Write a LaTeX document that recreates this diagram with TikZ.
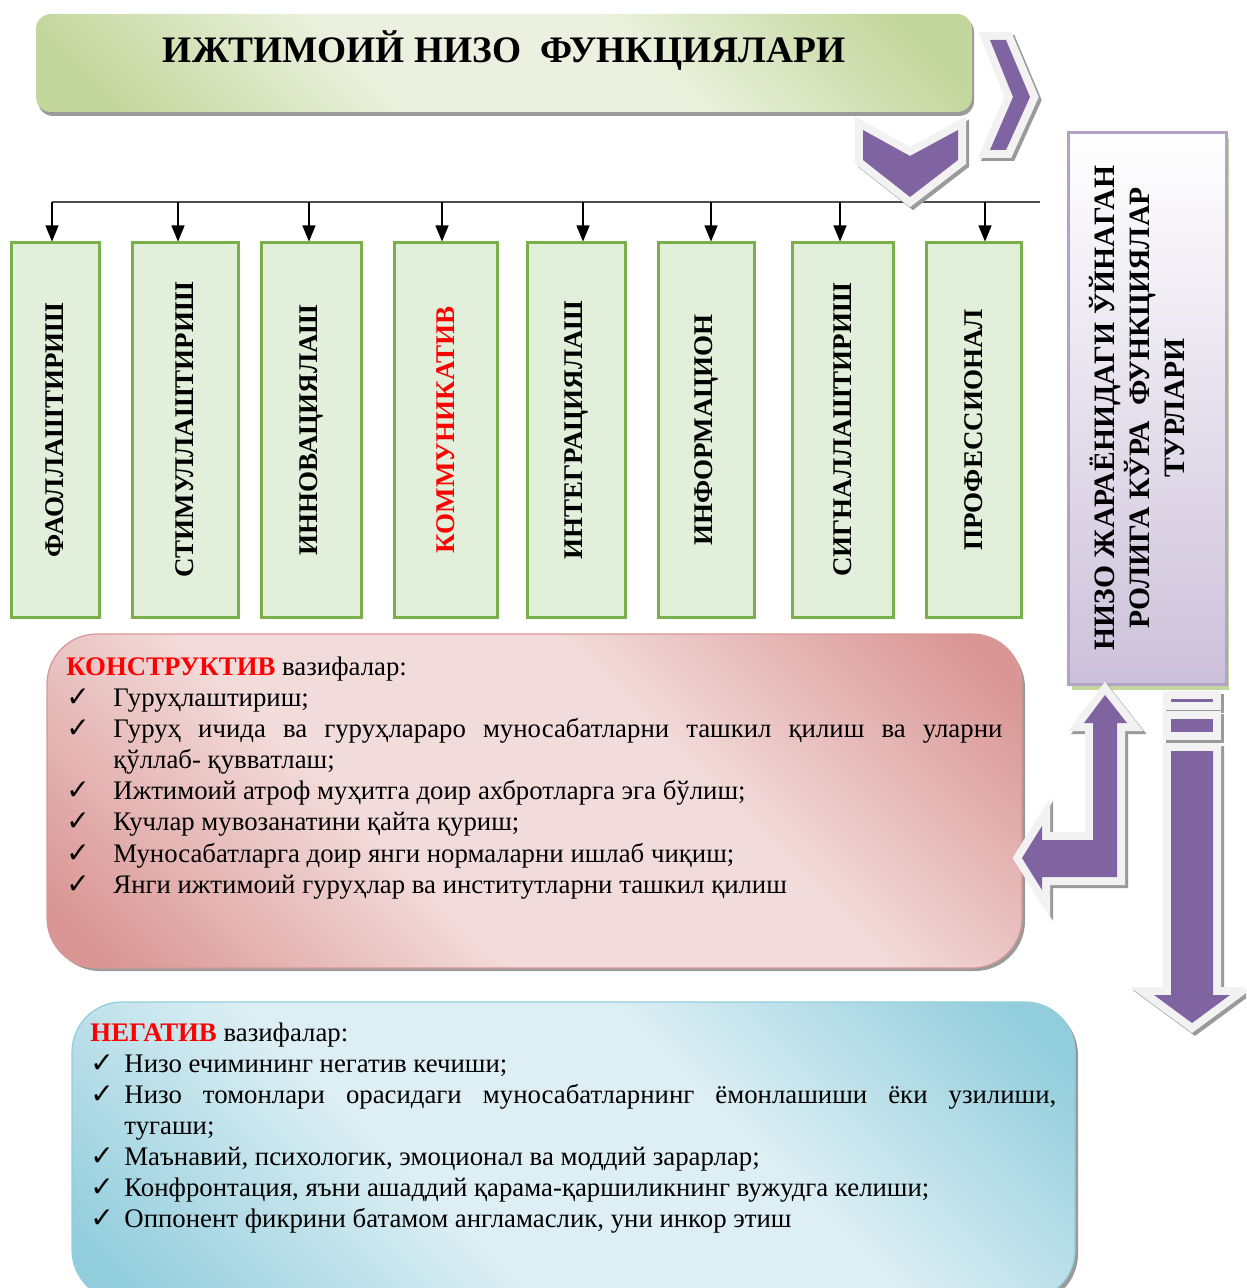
\documentclass[tikz,border=0pt]{standalone}
\usepackage{fontspec}
\setmainfont{Liberation Serif}
\newfontfamily\chkfont{DejaVu Sans}
\usepackage{graphicx}
\usetikzlibrary{arrows.meta}
\definecolor{apurple}{HTML}{8064A2}
\definecolor{agray}{HTML}{F2F2F2}
\definecolor{shgray}{HTML}{9A9A9A}
\definecolor{gborder}{HTML}{7AAF4C}
\definecolor{gfill}{HTML}{E2EFDA}
\definecolor{pborder}{HTML}{B3A2C7}
\definecolor{pdark}{HTML}{CCC1DA}
\definecolor{pshadow}{HTML}{C3D69B}
\definecolor{rdark}{HTML}{D99694}
\definecolor{rlight}{HTML}{F2DCDB}
\definecolor{bdark}{HTML}{92CDDC}
\definecolor{blight}{HTML}{DDEFF4}
\definecolor{tdark}{HTML}{C3D69B}
\definecolor{tlight}{HTML}{EBF1DE}
\pgfdeclarehorizontalshading{rshade}{100bp}{color(0bp)=(rdark); color(18bp)=(rdark); color(40bp)=(rlight); color(60bp)=(rlight); color(82bp)=(rdark); color(100bp)=(rdark)}
\pgfdeclarehorizontalshading{bshade}{100bp}{color(0bp)=(bdark); color(18bp)=(bdark); color(40bp)=(blight); color(60bp)=(blight); color(82bp)=(bdark); color(100bp)=(bdark)}
\pgfdeclarehorizontalshading{tshade}{100bp}{color(0bp)=(tdark); color(20bp)=(tdark); color(40bp)=(tlight); color(60bp)=(tlight); color(80bp)=(tdark); color(100bp)=(tdark)}
\newcommand{\ck}{{\chkfont\fontsize{14}{14}\selectfont ✓}}
\newcommand{\ritm}[1]{\par\hangindent=23.5pt\hangafter=1\noindent\makebox[23.5pt][l]{\ck}#1}
\newcommand{\bitm}[1]{\par\hangindent=17pt\hangafter=1\noindent\makebox[17pt][l]{\ck}#1}
\newcommand{\fancyshape}[1]{%
  \path[draw=shgray,fill=shgray,line width=8pt,line join=miter,shift={(3,3)}] #1;
  \path[draw=agray,fill=agray,line width=8pt,line join=miter] #1;
  \fill[apurple] #1;}
\begin{document}
\begin{tikzpicture}[x=0.5pt,y=-0.5pt,
  gbox/.style={draw=gborder,fill=gfill,line width=1.5pt,inner sep=0pt,minimum height=187pt,
     font=\fontsize{13.5}{16}\selectfont\bfseries},
  dn/.style={-{Triangle[width=6.5pt,length=8pt]},line width=0.6pt,black},
  bar/.style={line width=1pt,draw=black!70},
  listtxt/.style={inner sep=0pt,align=justify,font=\fontsize{13.4}{15.5}\selectfont},
]
\useasboundingbox (0,0) rectangle (1246,1288);
\clip (0,0) rectangle (1246,1288);

% title
\fill[shgray,rounded corners=7.5pt] (38,17) rectangle (974,116);
\node[minimum width=468pt,minimum height=49pt,rounded corners=7.5pt,inner sep=0pt,
      shade,shading=tshade,shading angle=45,
      font=\fontsize{18.7}{20}\selectfont\bfseries,text height=13pt,text depth=13pt]
      (title) at (504,63) {ИЖТИМОИЙ НИЗО\ \ ФУНКЦИЯЛАРИ};

% chevrons
\fancyshape{(990,40) -- (1006,40) -- (1030,97) -- (1006,150) -- (990,150) -- (1013,97) -- cycle}

% bar and arrows
\coordinate (hl) at (52,202);
\coordinate (hr) at (1040,202);
\draw[bar] (hl) -- (hr);
\fancyshape{(863,130) -- (910,156) -- (958,130) -- (958,160) -- (910,197) -- (863,160) -- cycle}

\node[gbox,minimum width=44pt]   (b1) at (55,430)    {\rotatebox{90}{ФАОЛЛАШТИРИШ}};
\node[gbox,minimum width=53pt]   (b2) at (185,430)   {\rotatebox{90}{СТИМУЛЛАШТИРИШ}};
\node[gbox,minimum width=50pt]   (b3) at (311,430)   {\rotatebox{90}{ИННОВАЦИЯЛАШ}};
\node[gbox,minimum width=51.5pt] (b4) at (445.5,430) {\rotatebox{90}{\color{red}КОММУНИКАТИВ}};
\node[gbox,minimum width=49pt]   (b5) at (576,430)   {\rotatebox{90}{ИНТЕГРАЦИЯЛАШ}};
\node[gbox,minimum width=48pt]   (b6) at (706,430)   {\rotatebox{90}{ИНФОРМАЦИОН}};
\node[gbox,minimum width=50.5pt] (b7) at (842.5,430) {\rotatebox{90}{СИГНАЛЛАШТИРИШ}};
\node[gbox,minimum width=47.5pt] (b8) at (973.5,430) {\rotatebox{90}{ПРОФЕССИОНАЛ}};

\coordinate (h1) at (52,202);
\coordinate (h2) at (178,202);
\coordinate (h3) at (309,202);
\coordinate (h4) at (442,202);
\coordinate (h5) at (583,202);
\coordinate (h6) at (711,202);
\coordinate (h7) at (840,202);
\coordinate (h8) at (985,202);
\foreach \i in {1,...,8} {\draw[dn] (h\i) -- (h\i |- b\i.north);}

% purple box
\fill[pshadow] (1072,138) rectangle (1229,690);
\node[draw=pborder,line width=1.5pt,top color=white,bottom color=pdark,
      minimum width=79pt,minimum height=275.5pt,inner sep=0pt] (pbox) at (1147,408.5) {};
\node[inner sep=0pt,font=\fontsize{14.8}{17.5}\selectfont\bfseries] (ptxt) at (1142,408)
  {\rotatebox{90}{\begin{tabular}{@{}c@{}}НИЗО ЖАРАЁНИДАГИ ЎЙНАГАН\\ РОЛИГА КЎРА\ \ ФУНКЦИЯЛАР\\ ТУРЛАРИ\end{tabular}}};

% red box
\fill[shgray,rounded corners=25pt] (50,638) rectangle (1025,971);
\node[draw=rdark,line width=0.6pt,rounded corners=25pt,shade,shading=rshade,
      shading angle=45,minimum width=487.5pt,minimum height=167pt,inner sep=0pt] (rbox) at (534.5,801) {};
\node[listtxt,text width=468pt,anchor=north west] (rtxt) at (66,657) {\parindent=0pt\hyphenpenalty=10000
  {\color{red}\bfseries КОНСТРУКТИВ} вазифалар:
  \ritm{Гуруҳлаштириш;}
  \ritm{Гуруҳ ичида ва гуруҳлараро муносабатларни ташкил қилиш ва уларни\linebreak қўллаб- қувватлаш;}
  \ritm{Ижтимоий атроф муҳитга доир ахбротларга эга бўлиш;}
  \ritm{Кучлар мувозанатини қайта қуриш;}
  \ritm{Муносабатларга доир янги нормаларни ишлаб чиқиш;}
  \ritm{Янги ижтимоий гуруҳлар ва институтларни ташкил қилиш}\par};

% blue box
\fill[shgray,rounded corners=25pt] (75,1005) rectangle (1078,1304);
\node[draw=bdark,line width=0.6pt,rounded corners=25pt,shade,shading=bshade,
      shading angle=45,minimum width=501.5pt,minimum height=149pt,inner sep=0pt] (bbox) at (573.5,1151) {};
\node[listtxt,text width=483pt,anchor=north west] (btxt) at (90,1022) {\parindent=0pt\hyphenpenalty=10000
  {\color{red}\bfseries НЕГАТИВ} вазифалар:
  \bitm{Низо ечимининг негатив кечиши;}
  \bitm{Низо томонлари орасидаги муносабатларнинг ёмонлашиши ёки узилиши,\linebreak тугаши;}
  \bitm{Маънавий, психологик, эмоционал ва моддий зарарлар;}
  \bitm{Конфронтация, яъни ашаддий қарама-қаршиликнинг вужудга келиши;}
  \bitm{Оппонент фикрини батамом англамаслик, уни инкор этиш}\par};

% bent arrow
\fancyshape{(1105,695) -- (1127,723) -- (1117,723) -- (1117,877) -- (1042,877) -- (1042,890) -- (1022,858) -- (1042,826) -- (1042,840) -- (1093,840) -- (1093,723) -- (1084,723) -- cycle}

% striped down arrow
\fancyshape{(1171,699) rectangle (1213,702)}
\fancyshape{(1171,719) rectangle (1213,732)}
\fancyshape{(1171,751) -- (1213,751) -- (1213,995) -- (1230,995) -- (1192,1023) -- (1154,995) -- (1171,995) -- cycle}
\end{tikzpicture}
\end{document}
